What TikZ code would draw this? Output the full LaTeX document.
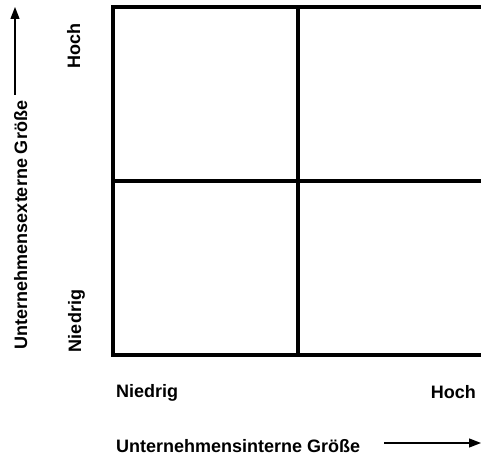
\documentclass[tikz,border=0pt]{standalone}
\usepackage{fontspec}
\setmainfont{Liberation Sans}
\usetikzlibrary{arrows.meta}
\begin{document}
\begin{tikzpicture}[x=1pt,y=1pt,
  lbl/.style={font=\fontsize{18}{20}\selectfont\bfseries, inner sep=0pt},
  grid/.style={line width=4pt},
  axis/.style={line width=1.3pt, -{Triangle[length=12pt,width=9pt]}}]
  \useasboundingbox (0,0) rectangle (481,457);
  % 2x2 matrix
  \draw[grid] (113,102) rectangle (483,450);
  \draw[grid] (298,102) -- (298,450);
  \draw[grid] (113,276) -- (483,276);
  % horizontal axis
  \node[lbl, anchor=base west] (xlo) at (116,59) {Niedrig};
  \node[lbl, anchor=base east] (xhi) at (476,58) {Hoch};
  \node[lbl, anchor=base west] (xname) at (116,5) {Unternehmensinterne Größe};
  \coordinate (xa) at (384,14);
  \coordinate (xb) at (481,14);
  \draw[axis] (xa) -- (xb);
  % vertical axis
  \node[lbl, rotate=90, anchor=base] (ylo) at (81,136) {Niedrig};
  \node[lbl, rotate=90, anchor=base] (yhi) at (80,411) {Hoch};
  \node[lbl, rotate=90, anchor=base] (yname) at (27,232) {Unternehmensexterne Größe};
  \coordinate (ya) at (15,362);
  \coordinate (yb) at (15,450);
  \draw[axis] (ya) -- (yb);
\end{tikzpicture}
\end{document}
